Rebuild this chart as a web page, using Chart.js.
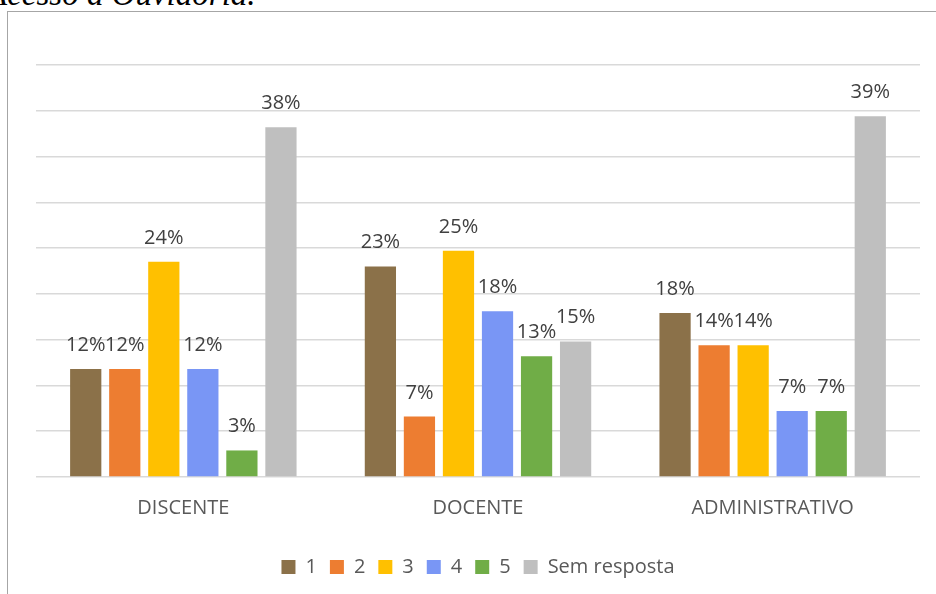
<!DOCTYPE html>
<html>
<head>
<meta charset="utf-8">
<script src="https://cdn.jsdelivr.net/npm/chart.js@4.4.0/dist/chart.umd.min.js"></script>
<style>
    html, body { margin: 0; padding: 0; background: #fff; overflow: hidden; }
    body { width: 936px; height: 594px; position: relative; }
    .caption {
        position: absolute; left: -13px; top: -22px;
        font: italic 33px "Liberation Serif", serif; line-height: 33px;
        color: #000; white-space: nowrap;
    }
    .frame {
        position: absolute; left: 7px; top: 11px; width: 960px; height: 620px;
        border-left: 1.5px solid #a6a6a6; border-top: 1.5px solid #a6a6a6;
    }
    #chart { position: absolute; left: 0; top: 0; }
</style>
</head>
<body>
<div class="caption">Acesso à Ouvidoria.</div>
<div class="frame"></div>
<canvas id="chart" width="936" height="594"></canvas>
<script>
// Data
const categories = ['DISCENTE', 'DOCENTE', 'ADMINISTRATIVO'];
const seriesNames = ['1', '2', '3', '4', '5', 'Sem resposta'];
const seriesColors = ['#8B7149', '#ED7D31', '#FFC000', '#7996F5', '#70AD47', '#BFBFBF'];
const val1 = [11.8, 23.0, 17.9];
const val2 = [11.8, 6.6, 14.4];
const val3 = [23.5, 24.7, 14.4];
const val4 = [11.8, 18.1, 7.2];
const val5 = [2.9, 13.2, 7.2];
const valSem = [38.2, 14.8, 39.4];
const yTicks = [0, 5, 10, 15, 20, 25, 30, 35, 40, 45];

const seriesValues = [val1, val2, val3, val4, val5, valSem];

// Value labels above each bar
const barLabels = {
    id: 'barLabels',
    afterDatasetsDraw(chart) {
        const ctx = chart.ctx;
        ctx.save();
        ctx.font = '20px "Open Sans"';
        ctx.fillStyle = '#404040';
        ctx.textAlign = 'center';
        ctx.textBaseline = 'alphabetic';
        chart.data.datasets.forEach((ds, i) => {
            chart.getDatasetMeta(i).data.forEach((bar, j) => {
                ctx.fillText(Math.round(ds.data[j]) + '%', bar.x, bar.y - 18);
            });
        });
        ctx.restore();
    }
};

new Chart(document.getElementById('chart'), {
    type: 'bar',
    data: {
        labels: categories,
        datasets: seriesNames.map((name, i) => ({
            label: name,
            data: seriesValues[i],
            backgroundColor: seriesColors[i],
            borderWidth: 0,
            categoryPercentage: 0.795,
            barPercentage: 0.8
        }))
    },
    options: {
        responsive: false,
        animation: false,
        layout: { padding: { left: 36, right: 16, top: 65, bottom: 7 } },
        plugins: {
            tooltip: { enabled: false },
            legend: {
                position: 'bottom',
                labels: {
                    boxWidth: 14, boxHeight: 14, padding: 13,
                    color: '#595959',
                    font: { family: '"Open Sans"', size: 20 }
                }
            }
        },
        scales: {
            x: {
                grid: { display: false, drawTicks: false },
                border: { display: false },
                ticks: { color: '#595959', padding: 19, font: { family: '"Open Sans"', size: 20 } },
                afterFit: axis => { axis.height = 67; }
            },
            y: {
                min: 0, max: 45,
                afterBuildTicks: axis => { axis.ticks = yTicks.map(v => ({ value: v })); },
                grid: { color: '#d9d9d9', lineWidth: 1.5, drawTicks: false },
                border: { display: false },
                ticks: { display: false }
            }
        }
    },
    plugins: [barLabels]
});
</script>
</body>
</html>
